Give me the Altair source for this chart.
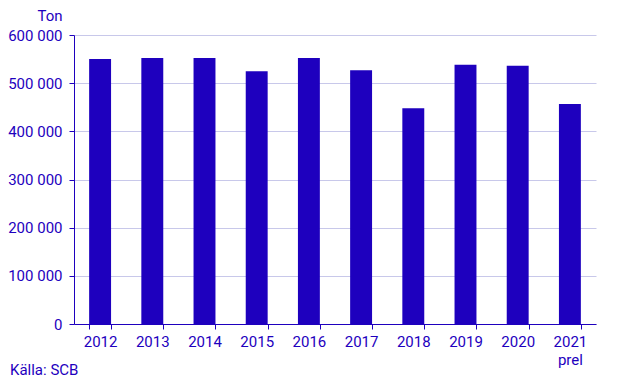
import altair as alt
import pandas as pd

years = ["2012", "2013", "2014", "2015", "2016", "2017", "2018", "2019", "2020", "2021 prel"]
tons = [550000, 552000, 552000, 525000, 552000, 527000, 448000, 538000, 536000, 457000]

df = pd.DataFrame({"year": years, "ton": tons})

BLUE = "#1e00be"
FONT = "Roboto"
FS = 15

bars = alt.Chart(df).mark_bar(color=BLUE).encode(
    x=alt.X(
        "year:N",
        sort=years,
        scale=alt.Scale(paddingInner=0.58, paddingOuter=0.29),
        axis=alt.Axis(
            title=None,
            labelAngle=0,
            labelExpr="datum.value == '2021 prel' ? ['2021', 'prel'] : datum.value",
            tickBand="extent",
            tickSize=5,
            tickColor=BLUE,
            domainColor=BLUE,
            labelColor=BLUE,
            labelFont=FONT,
            labelFontSize=FS,
            labelPadding=5,
            labelLineHeight=18,
            grid=False,
        ),
    ),
    y=alt.Y(
        "ton:Q",
        scale=alt.Scale(domain=[0, 600000], nice=False),
        axis=alt.Axis(
            title="Ton",
            titleAngle=0,
            titleAlign="right",
            titleBaseline="middle",
            titleX=-12,
            titleY=-20,
            titleColor=BLUE,
            titleFont=FONT,
            titleFontSize=FS,
            titleFontWeight="normal",
            values=[0, 100000, 200000, 300000, 400000, 500000, 600000],
            labelExpr="replace(format(datum.value, ',d'), /,/g, ' ')",
            tickSize=5,
            tickColor=BLUE,
            domainColor=BLUE,
            labelColor=BLUE,
            labelFont=FONT,
            labelFontSize=FS,
            labelPadding=7,
            grid=True,
            gridColor="#c8c8ea",
            gridWidth=1,
        ),
    ),
)

chart = bars.properties(
    width=522,
    height=289,
    padding={"left": 66, "top": 27, "right": 30, "bottom": 56},
    autosize=alt.AutoSizeParams(type="none"),
    title=alt.TitleParams(
        "Källa: SCB",
        orient="bottom",
        anchor="start",
        frame="group",
        dx=-64,
        offset=-4,
        color=BLUE,
        font=FONT,
        fontSize=FS,
        fontWeight="normal",
    ),
).configure_view(stroke=None)

chart.save("out.html", embed_options={"renderer": "svg", "actions": False})
